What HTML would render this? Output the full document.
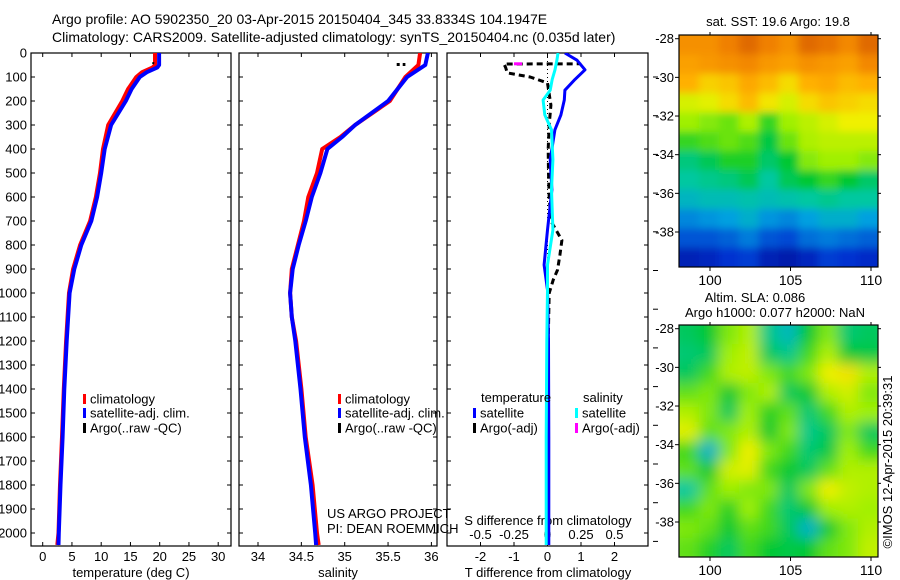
<!DOCTYPE html>
<html><head><meta charset="utf-8"><style>
html,body{margin:0;padding:0;background:#fff}
svg{display:block;font-family:"Liberation Sans",sans-serif;font-size:13px}
</style></head><body>
<svg id="fig" width="900" height="580" viewBox="0 0 900 580">
<defs>
<clipPath id="c1"><rect x="31" y="53" width="200" height="493"/></clipPath>
<clipPath id="c2"><rect x="239" y="53" width="198" height="493"/></clipPath>
<clipPath id="c3"><rect x="447" y="53" width="201" height="493"/></clipPath>
<clipPath id="cm1"><rect x="679" y="35" width="199" height="232"/></clipPath>
<clipPath id="cm2"><rect x="679" y="325" width="199" height="232"/></clipPath>
<filter id="b1" x="-10%" y="-10%" width="120%" height="120%"><feGaussianBlur stdDeviation="4"/></filter>
<filter id="b2" x="-10%" y="-10%" width="120%" height="120%"><feGaussianBlur stdDeviation="7"/></filter>
</defs>
<text x="52" y="24" font-size="14">Argo profile: AO 5902350_20 03-Apr-2015 20150404_345 33.8334S 104.1947E</text>
<text x="52" y="42" font-size="14">Climatology: CARS2009. Satellite-adjusted climatology: synTS_20150404.nc (0.035d later)</text>
<g id="p1"></g>
<g id="p2"></g>
<g id="p3"></g>
<g id="m1"></g>
<g id="m2"></g>
<text x="327" y="518">US ARGO PROJECT</text>
<text x="327" y="533">PI: DEAN ROEMMICH</text>
<text x="778" y="26" text-anchor="middle">sat. SST: 19.6 Argo: 19.8</text>
<text x="755" y="302" text-anchor="middle">Altim. SLA: 0.086</text>
<text x="775" y="317" text-anchor="middle">Argo h1000: 0.077 h2000: NaN</text>
<text transform="translate(892,462) rotate(-90)" text-anchor="middle">©IMOS 12-Apr-2015 20:39:31</text>
</svg>
<script>
// ---- data ----
const depths = [0,50,60,80,100,150,200,300,400,500,600,700,800,900,1000,1200,1400,1600,1800,2000,2050];
const tempClim = [19.2,19.2,18.8,17.0,16.0,14.6,13.6,11.2,10.3,9.8,9.1,8.1,6.4,5.2,4.5,4.0,3.6,3.3,2.95,2.7,2.5];
const tempSat = [19.9,19.9,19.6,17.8,16.6,15.2,14.2,11.7,10.6,10.0,9.3,8.3,6.6,5.4,4.6,4.1,3.7,3.4,3.05,2.75,2.7];
const argoDepths = [38,42,46,50];
const argoTemp = [18.9,18.9,18.8,18.8];
const salDepths = [0,50,100,200,300,350,400,500,600,700,800,900,1000,1100,1200,1400,1600,1800,2000,2050];
const salClim = [35.87,35.85,35.7,35.52,35.12,34.95,34.74,34.68,34.58,34.53,34.46,34.39,34.37,34.39,34.44,34.5,34.55,34.63,34.68,34.7];
const salSat = [35.96,35.93,35.72,35.5,35.12,34.97,34.8,34.72,34.62,34.55,34.47,34.4,34.37,34.39,34.43,34.49,34.54,34.61,34.66,34.67];
const argoSal = [35.6,35.66,35.7];
const argoSalDepths = [48,48,48];
const diffDepths = [0,30,70,110,155,196,258,320,445,570,737,883,987,1200,1600,2050];
const tDiffSat = [0.52,0.88,1.12,0.82,0.52,0.5,0.4,0.22,0.08,0.13,0.0,-0.1,0.0,0.03,0.04,0.04];
const sDiffSat = [0.078,0.07,0.056,0.035,0.02,-0.033,-0.02,0.03,0.04,0.03,0.04,0.0,0.0,-0.005,-0.01,-0.01];
const argoDiffDepths = [40,45,46,60,83,100,125,217,300,400,500,600,700,780,842,904,946,1000,1200,1500,2050];
const tDiffArgo = [0.9,0.97,-1.3,-1.25,-1.2,-0.52,0.0,0.1,0.05,0.02,0.03,0.05,0.1,0.43,0.37,0.3,0.17,0.05,0.02,0.02,0.02];
const sDiffArgoDepths = [45,45];
const sDiffArgo = [-0.25,-0.19];
const depthTicks = [0,100,200,300,400,500,600,700,800,900,1000,1100,1200,1300,1400,1500,1600,1700,1800,1900,2000];
const tempTicks = [0,5,10,15,20,25,30];
const salTicks = [34,34.5,35,35.5,36];
const tDiffTicks = [-2,-1,0,1,2];
const sDiffTicks = [-0.5,-0.25,0,0.25,0.5];
const sDiffTickLabels = ['-0.5','-0.25','0','0.25','0.5'];
const latTicks = [-28,-30,-32,-34,-36,-38];
const lonTicks = [100,105,110];
const sstGrid = [
[21.0,21.0,21.2,21.4,21.2,21.0,21.4,21.3,21.1,21.4],
[20.8,20.9,21.0,21.1,20.9,20.8,21.0,20.9,20.8,21.1],
[20.6,20.3,20.4,20.7,20.5,20.2,20.6,20.7,20.5,20.6],
[19.8,19.9,20.2,20.5,20.1,19.8,20.2,20.4,20.3,20.2],
[19.4,19.3,19.2,19.5,19.0,19.4,19.6,19.8,20.0,20.0],
[19.0,19.1,19.2,19.1,18.7,19.2,19.5,19.6,19.6,19.6],
[18.4,18.6,18.9,18.9,18.5,18.8,19.3,19.4,19.4,19.3],
[18.2,18.3,18.4,18.6,18.2,18.6,18.8,19.0,18.8,18.5],
[17.9,18.0,18.0,18.1,18.0,18.1,18.2,18.3,18.2,18.2],
[17.4,17.5,17.6,17.8,17.5,17.4,17.6,17.8,17.8,17.6],
[17.0,17.0,17.1,17.3,17.0,16.9,17.2,17.3,17.2,17.1],
[16.4,16.5,16.7,16.8,16.4,16.3,16.5,16.8,16.7,16.6]];
const slaGrid = [
[0.0,0.02,0.06,0.08,-0.02,-0.05,0.02,0.06,-0.01,0.0],
[-0.01,0.0,0.07,0.09,0.0,-0.02,0.04,0.08,0.02,0.01],
[0.0,0.04,0.08,0.09,0.06,0.04,0.06,0.12,0.13,0.08],
[0.05,0.06,0.02,0.06,0.08,0.0,0.02,0.08,0.10,0.06],
[0.08,0.06,0.0,0.07,0.03,0.05,-0.01,0.04,0.08,0.07],
[0.11,0.05,0.06,0.08,0.02,0.06,-0.02,0.0,0.06,0.0],
[0.04,-0.06,0.06,0.12,0.06,0.04,-0.01,0.01,0.07,0.04],
[0.05,0.02,0.1,0.11,0.04,0.02,0.0,0.05,0.08,0.08],
[-0.03,0.05,0.07,0.06,0.06,0.0,0.06,0.12,0.09,0.08],
[0.04,0.06,0.03,0.07,0.04,-0.01,0.02,0.07,0.08,0.07],
[0.06,0.05,0.02,0.05,0.04,0.0,-0.06,0.02,0.06,0.08],
[0.05,0.03,0.0,0.04,0.02,0.01,0.02,0.05,0.06,0.09]];

// ---- helpers ----
const NS = 'http://www.w3.org/2000/svg';
function mk(parent, tag, attrs, txt){
  const e = document.createElementNS(NS, tag);
  for (const k in attrs) e.setAttribute(k, attrs[k]);
  if (txt !== undefined) e.textContent = txt;
  parent.appendChild(e); return e;
}
const yD = d => 53 + d * 0.24;
const xT = t => 42.7 + t * 5.85;
const xS = s => 258 + (s - 34) * 86.7;
const xDT = t => 547.5 + t * 33.5;
const xDS = s => 547.5 + s * 134;
function pts(xs, ds, fx){ return xs.map((v,i)=>fx(v).toFixed(1)+','+yD(ds[i]).toFixed(1)).join(' '); }

function panel(g, x0, x1, withLabels){
  const f = mk(g,'rect',{x:x0,y:53,width:x1-x0,height:493,fill:'none',stroke:'#000','stroke-width':1.2});
  
  
  depthTicks.forEach(d=>{
    const y = yD(d);
    const t1 = mk(g,'line',{x1:x0,x2:x0+4,y1:y,y2:y,stroke:'#000'});
    
    
    const t2 = mk(g,'line',{x1:x1-4,x2:x1,y1:y,y2:y,stroke:'#000'});
    
    
    if (withLabels){
      const l = mk(g,'text',{x:x0-4,y:y+4.5,'text-anchor':'end'}, String(d));
      
      
    }
  });
}
function xticks(g, ticks, labels, fx, yAxis, yLab){
  ticks.forEach((t,i)=>{
    const x = fx(t);
    const a = mk(g,'line',{x1:x,x2:x,y1:546,y2:542,stroke:'#000'});
    
    
    const b = mk(g,'line',{x1:x,x2:x,y1:53,y2:57,stroke:'#000'});
    
    
    const l = mk(g,'text',{x:x,y:yLab,'text-anchor':'middle'}, labels[i]);
    
    
  });
}
function line(g, p, color, w, clip, name, dash){
  const a = {points:p,fill:'none',stroke:color,'stroke-width':w,'clip-path':'url(#'+clip+')','stroke-linejoin':'round'};
  if (dash) a['stroke-dasharray'] = dash;
  const e = mk(g,'polyline',a);
  
  
}
function legend(g, x, y, color, label){
  const m = mk(g,'rect',{x:x,y:y-5,width:3,height:10,fill:color});
  
  
  const t = mk(g,'text',{x:x+7,y:y+4.5}, label);
  
  
}

// ---- panel 1 ----
const p1 = document.getElementById('p1');
panel(p1, 31, 231, true);
xticks(p1, tempTicks, tempTicks.map(String), xT, 546, 561);
const t1 = mk(p1,'text',{x:131,y:577,'text-anchor':'middle'},'temperature (deg C)');


line(p1, pts(tempClim, depths, xT), '#ff0000', 4, 'c1', 'climatology-temp-line');
line(p1, pts(tempSat, depths, xT), '#0000ff', 4, 'c1', 'satellite-temp-line');
line(p1, pts(argoTemp, argoDepths, xT), '#000', 2, 'c1', 'argo-temp-line', '2,2');
legend(p1, 83, 399, '#ff0000', 'climatology');
legend(p1, 83, 413, '#0000ff', 'satellite-adj. clim.');
legend(p1, 83, 428, '#000', 'Argo(..raw -QC)');

// ---- panel 2 ----
const p2 = document.getElementById('p2');
panel(p2, 239, 437, false);
xticks(p2, salTicks, salTicks.map(String), xS, 546, 561);
const t2 = mk(p2,'text',{x:338,y:577,'text-anchor':'middle'},'salinity');


line(p2, pts(salClim, salDepths, xS), '#ff0000', 4, 'c2', 'climatology-salinity-line');
line(p2, pts(salSat, salDepths, xS), '#0000ff', 4, 'c2', 'satellite-salinity-line');
line(p2, pts(argoSal, argoSalDepths, xS), '#000', 3, 'c2', 'argo-salinity-line', '3,3');
legend(p2, 338, 399, '#ff0000', 'climatology');
legend(p2, 338, 413, '#0000ff', 'satellite-adj. clim.');
legend(p2, 338, 428, '#000', 'Argo(..raw -QC)');

// ---- panel 3 ----
const p3 = document.getElementById('p3');
panel(p3, 447, 648, false);
xticks(p3, tDiffTicks, tDiffTicks.map(String), xDT, 546, 561);
sDiffTicks.forEach((s,i)=>{
  const l = mk(p3,'text',{x:xDS(s),y:539,'text-anchor':'middle'}, sDiffTickLabels[i]);
  
  
});
const st = mk(p3,'text',{x:548,y:525,'text-anchor':'middle'},'S difference from climatology');


const tt = mk(p3,'text',{x:548,y:577,'text-anchor':'middle'},'T difference from climatology');


for (let k=0;k<13;k++){
  const y = 77 + 38.7*k;
  const r = mk(p3,'line',{x1:653,x2:658,y1:y,y2:y,stroke:'#000'});
  
  
}
const zl = mk(p3,'line',{x1:xDT(0),x2:xDT(0),y1:53,y2:546,stroke:'#000','stroke-dasharray':'1,3'});


line(p3, pts(tDiffArgo, argoDiffDepths, xDT), '#000', 3, 'c3', 'argo-temp-diff-line', '6,4');
line(p3, pts(sDiffArgo, sDiffArgoDepths, xDS), '#ff00ff', 3, 'c3', 'argo-salinity-diff-line');
line(p3, pts(tDiffSat, diffDepths, xDT), '#0000ff', 3, 'c3', 'satellite-temp-diff-line');
line(p3, pts(sDiffSat, diffDepths, xDS), '#00ffff', 3, 'c3', 'satellite-salinity-diff-line');
const lh1 = mk(p3,'text',{x:481,y:402},'temperature');


const lh2 = mk(p3,'text',{x:583,y:402},'salinity');


legend(p3, 473, 413, '#0000ff', 'satellite');
legend(p3, 473, 428, '#000', 'Argo(-adj)');
legend(p3, 575, 413, '#00ffff', 'satellite');
legend(p3, 575, 428, '#ff00ff', 'Argo(-adj)');

// ---- maps ----
const stops = [[0,[0,0,128]],[0.15,[0,48,208]],[0.3,[0,160,224]],[0.4,[0,200,160]],[0.5,[0,200,48]],[0.6,[160,240,0]],[0.7,[240,240,0]],[0.8,[255,176,0]],[0.9,[240,128,0]],[1,[192,64,0]]];
function cmap(v){
  v = Math.max(0, Math.min(1, v));
  for (let i=1;i<stops.length;i++){
    if (v <= stops[i][0]){
      const a = stops[i-1], b = stops[i], f = (v-a[0])/(b[0]-a[0]);
      const c = a[1].map((x,j)=>Math.round(x + (b[1][j]-x)*f));
      return 'rgb('+c.join(',')+')';
    }
  }
  return 'rgb(192,64,0)';
}
function map(id, y0, grid, vmin, vmax, clip, filt){
  const g = document.getElementById(id);
  const x0 = 679, w = 199, h = 232;
  const latY = lat => y0 + 3.7 + (-28 - lat) * 19.33;
  const lonX = lon => 710 + (lon - 100) * 16.1;
  const cg = mk(g,'g',{'clip-path':'url(#'+clip+')'});
  const bg = mk(cg,'g',{filter:'url(#'+filt+')'});
  const rows = grid.length, cols = grid[0].length;
  const cw = w/cols, ch = h/rows;
  grid.forEach((row,r)=>row.forEach((v,c)=>{
    const e = mk(bg,'rect',{x:(x0+c*cw-(c==0?12:0)).toFixed(1),y:(y0+r*ch-(r==0?12:0)).toFixed(1),width:(cw+(c==0||c==cols-1?12:0)+0.5).toFixed(1),height:(ch+(r==0||r==rows-1?12:0)+0.5).toFixed(1),fill:cmap((v-vmin)/(vmax-vmin))});
    
    
  }));
  const fr = mk(g,'rect',{x:x0,y:y0,width:w,height:h,fill:'none',stroke:'#000','stroke-width':1.2});
  
  
  latTicks.forEach(lat=>{
    const y = latY(lat);
    const a = mk(g,'line',{x1:x0-4,x2:x0,y1:y,y2:y,stroke:'#000'});
    
    
    const b = mk(g,'line',{x1:x0+w,x2:x0+w+3,y1:y,y2:y,stroke:'#000'});
    
    
    const l = mk(g,'text',{x:x0-5,y:y+4.5,'text-anchor':'end'}, String(lat));
    
    
  });
  lonTicks.forEach(lon=>{
    const x = lonX(lon);
    const a = mk(g,'line',{x1:x,x2:x,y1:y0+h,y2:y0+h+4,stroke:'#000'});
    
    
    const b = mk(g,'line',{x1:x,x2:x,y1:y0-3,y2:y0,stroke:'#000'});
    
    
    const l = mk(g,'text',{x:x,y:y0+h+18,'text-anchor':'middle','font-size':14}, String(lon));
    
    
  });
}
map('m1', 35, sstGrid, 15.8, 21.8, 'cm1', 'b1');
map('m2', 325, slaGrid, -0.23, 0.27, 'cm2', 'b2');
</script>
</body></html>
